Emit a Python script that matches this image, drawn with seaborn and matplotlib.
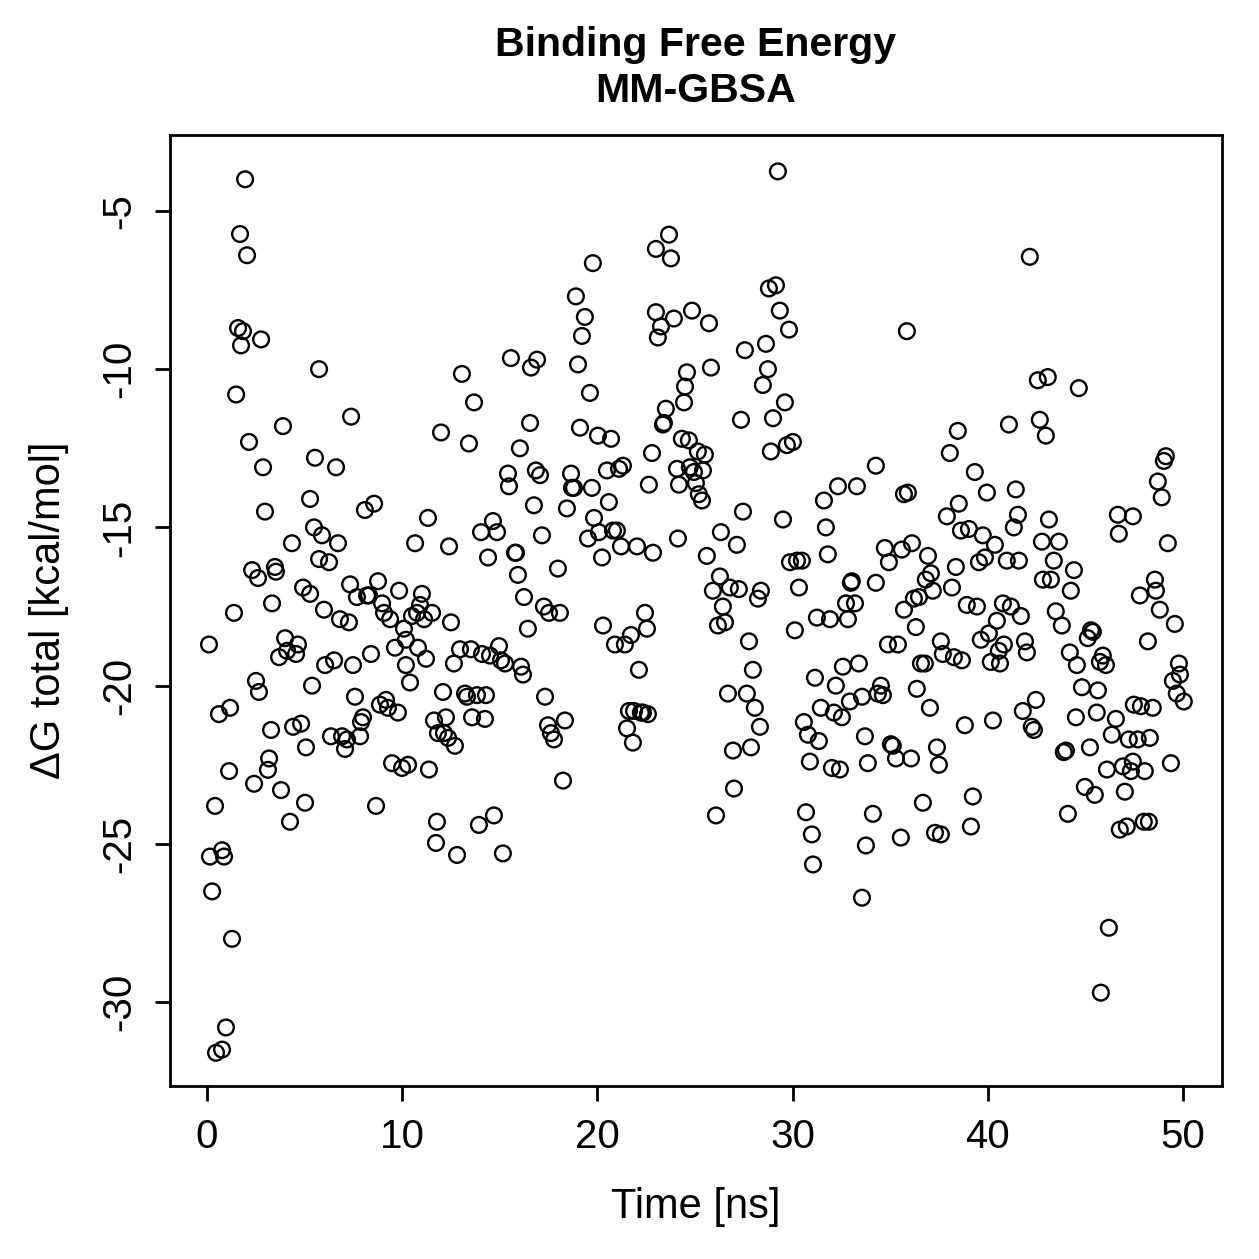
import matplotlib
matplotlib.use("Agg")
import matplotlib.pyplot as plt
import seaborn as sns
import pandas as pd

# simulation time (ns) and total binding free energy (kcal/mol)
time_ns = [
    0.10, 0.15, 0.26, 0.41, 0.46, 0.61, 0.77, 0.77, 0.87, 0.97,
    1.13, 1.18, 1.28, 1.38, 1.49, 1.59, 1.69, 1.74, 1.84, 1.95, 2.05,
    2.15, 2.31, 2.41, 2.51, 2.61, 2.66, 2.77, 2.87, 2.97, 3.12,
    3.18, 3.28, 3.33, 3.48, 3.53, 3.69, 3.79, 3.89, 4.00, 4.10,
    4.25, 4.35, 4.41, 4.56, 4.66, 4.82, 4.92, 5.02, 5.07, 5.28,
    5.28, 5.38, 5.53, 5.48, 5.74, 5.74, 5.89, 5.99, 6.05, 6.25,
    6.35, 6.51, 6.61, 6.71, 6.81, 6.92, 7.07, 7.17, 7.27, 7.33,
    7.38, 7.48, 7.58, 7.68, 7.84, 7.89, 7.99, 8.09, 8.20, 8.30,
    8.40, 8.56, 8.66, 8.76, 8.86, 8.97, 9.07, 9.17, 9.27, 9.38,
    9.48, 9.63, 9.78, 9.84, 9.99, 10.09, 10.19, 10.19, 10.30, 10.40,
    10.50, 10.66, 10.76, 10.81, 10.91, 11.01, 11.12, 11.22, 11.32, 11.37,
    11.53, 11.63, 11.73, 11.78, 11.83, 11.99, 12.09, 12.14, 12.24, 12.35,
    12.40, 12.50, 12.65, 12.70, 12.81, 12.96, 13.06, 13.22, 13.32, 13.42,
    13.52, 13.58, 13.68, 13.83, 13.93, 14.04, 14.09, 14.24, 14.29, 14.40,
    14.50, 14.65, 14.70, 14.86, 14.96, 15.06, 15.16, 15.27, 15.42, 15.47,
    15.57, 15.78, 15.83, 15.93, 16.03, 16.09, 16.19, 16.24, 16.44, 16.55,
    16.60, 16.75, 16.85, 16.91, 17.06, 17.16, 17.26, 17.32, 17.47, 17.52,
    17.62, 17.78, 17.98, 18.08, 18.24, 18.34, 18.44, 18.65, 18.70, 18.80,
    18.90, 19.01, 19.11, 19.21, 19.36, 19.52, 19.62, 19.72, 19.77, 19.83,
    20.03, 20.08, 20.24, 20.29, 20.49, 20.59, 20.70, 20.80, 20.90, 21.00,
    21.11, 21.21, 21.31, 21.41, 21.52, 21.62, 21.72, 21.82, 21.88, 22.03,
    22.13, 22.23, 22.34, 22.44, 22.54, 22.59, 22.64, 22.80, 22.85, 23.00,
    23.00, 23.10, 23.26, 23.36, 23.41, 23.51, 23.67, 23.77, 23.92, 24.08,
    24.13, 24.18, 24.33, 24.44, 24.49, 24.59, 24.69, 24.74, 24.85, 24.95,
    25.05, 25.15, 25.20, 25.36, 25.41, 25.51, 25.61, 25.72, 25.82, 25.92,
    26.08, 26.18, 26.28, 26.33, 26.43, 26.54, 26.69, 26.79, 26.95, 27.00,
    27.15, 27.25, 27.36, 27.46, 27.56, 27.66, 27.77, 27.87, 27.97, 28.07,
    28.23, 28.33, 28.38, 28.48, 28.64, 28.74, 28.79, 28.89, 29.00, 29.15,
    29.25, 29.35, 29.51, 29.61, 29.71, 29.82, 29.87, 30.02, 30.12, 30.23,
    30.33, 30.48, 30.58, 30.69, 30.79, 30.89, 30.99, 31.05, 31.15, 31.25,
    31.35, 31.45, 31.61, 31.71, 31.81, 31.92, 32.02, 32.12, 32.22, 32.33,
    32.43, 32.53, 32.58, 32.74, 32.84, 32.94, 32.99, 33.04, 33.20, 33.30,
    33.40, 33.56, 33.56, 33.71, 33.76, 33.86, 34.12, 34.27, 34.27, 34.37,
    34.53, 34.63, 34.73, 34.89, 34.94, 35.04, 35.14, 35.30, 35.40, 35.55,
    35.60, 35.71, 35.71, 35.86, 35.91, 36.07, 36.12, 36.22, 36.32, 36.37,
    36.48, 36.58, 36.68, 36.78, 36.83, 36.94, 37.04, 37.09, 37.19, 37.30,
    37.40, 37.50, 37.60, 37.60, 37.70, 37.91, 38.06, 38.17, 38.27, 38.37,
    38.47, 38.52, 38.63, 38.68, 38.83, 38.93, 39.04, 39.14, 39.24, 39.34,
    39.45, 39.55, 39.65, 39.75, 39.86, 39.96, 40.06, 40.16, 40.27, 40.37,
    40.47, 40.57, 40.63, 40.78, 40.83, 40.98, 41.09, 41.19, 41.34, 41.44,
    41.55, 41.60, 41.70, 41.80, 41.91, 42.01, 42.16, 42.26, 42.37, 42.47,
    42.57, 42.67, 42.78, 42.83, 42.98, 43.08, 43.14, 43.24, 43.39, 43.49,
    43.65, 43.80, 43.90, 44.01, 44.11, 44.21, 44.26, 44.42, 44.52, 44.57,
    44.67, 44.83, 44.98, 45.13, 45.24, 45.29, 45.39, 45.49, 45.59, 45.65,
    45.80, 45.75, 45.90, 46.06, 46.11, 46.21, 46.36, 46.57, 46.67, 46.72,
    46.77, 46.93, 47.03, 47.13, 47.23, 47.34, 47.44, 47.44, 47.49, 47.69,
    47.80, 47.85, 48.00, 48.05, 48.21, 48.26, 48.31, 48.46, 48.57, 48.62,
    48.72, 48.82, 48.92, 49.03, 49.13, 49.23, 49.39, 49.49, 49.59, 49.69,
    49.80, 49.85, 50.05,
]

delta_g = [
    -18.7, -25.4, -26.5, -23.8, -31.6, -20.9, -31.5, -25.2, -25.4, -30.8,
    -22.7, -20.7, -28.0, -17.7, -10.8, -8.7, -5.73, -9.25, -8.8, -4.0, -6.4,
    -12.3, -16.35, -23.1, -19.85, -16.6, -20.2, -9.06, -13.1, -14.5, -22.66,
    -22.3, -21.4, -17.4, -16.25, -16.4, -19.1, -23.3, -11.8, -18.5, -18.9,
    -24.3, -15.5, -21.3, -19.0, -18.7, -21.2, -16.9, -23.7, -21.95, -17.1,
    -14.1, -20.0, -12.8, -15.0, -16.0, -10.0, -15.25, -17.6, -19.35, -16.1,
    -21.6, -19.2, -13.1, -15.5, -17.9, -21.6, -22.0, -21.7, -18.0, -16.8,
    -11.5, -19.35, -20.35, -17.2, -21.6, -21.15, -21.0, -14.45, -17.15, -17.15,
    -19.0, -14.25, -23.8, -16.7, -20.6, -17.4, -17.7, -20.45, -20.7, -17.9,
    -22.45, -18.8, -20.85, -17.0, -22.6, -18.2, -19.35, -18.55, -22.5, -19.9,
    -17.8, -15.5, -17.7, -18.8, -17.45, -17.1, -17.9, -19.15, -14.7, -22.65,
    -17.7, -21.1, -24.97, -24.3, -21.5, -12.0, -20.2, -21.5, -21.0, -21.65,
    -15.6, -18.0, -19.3, -21.9, -25.35, -18.85, -10.15, -20.25, -20.35, -12.35,
    -18.85, -21.0, -11.05, -20.3, -24.4, -15.15, -19.0, -21.05, -20.3, -15.95,
    -19.05, -14.8, -24.1, -15.15, -18.75, -19.2, -25.3, -19.3, -13.3, -13.7,
    -9.65, -15.8, -15.8, -16.5, -12.5, -19.4, -19.65, -17.2, -18.2, -11.7,
    -9.95, -14.3, -13.2, -9.7, -13.35, -15.25, -17.5, -20.35, -21.25, -17.7,
    -21.5, -21.7, -16.3, -17.7, -23.0, -21.1, -14.4, -13.3, -13.75, -13.75,
    -7.7, -9.85, -11.85, -8.95, -8.35, -15.35, -10.75, -13.75, -6.65, -14.7,
    -12.1, -15.15, -15.95, -18.1, -13.2, -14.2, -12.2, -15.1, -18.7, -15.1,
    -13.15, -15.6, -13.05, -18.7, -21.35, -20.8, -18.4, -21.8, -20.8, -15.6,
    -19.5, -20.85, -20.85, -17.7, -18.2, -20.9, -13.65, -12.65, -15.8, -6.2,
    -8.2, -9.0, -8.65, -11.75, -11.7, -11.25, -5.75, -6.5, -8.4, -13.15,
    -15.35, -13.65, -12.2, -11.05, -10.55, -10.1, -12.25, -13.1, -8.15, -13.25,
    -13.6, -12.6, -13.95, -14.15, -13.2, -12.7, -15.9, -8.55, -9.95, -17.0,
    -24.1, -18.1, -16.55, -15.15, -17.5, -18.0, -20.25, -16.9, -22.05, -23.25,
    -15.55, -16.95, -11.6, -14.5, -9.4, -20.25, -18.6, -21.95, -19.5, -20.7,
    -17.25, -21.3, -17.0, -10.5, -9.2, -10.0, -7.45, -12.6, -11.55, -7.35,
    -3.75, -8.15, -14.75, -11.05, -12.4, -8.75, -16.1, -12.3, -18.25, -16.05,
    -16.9, -16.05, -21.15, -24.0, -21.55, -22.4, -24.7, -25.65, -19.75, -17.85,
    -21.75, -20.7, -14.15, -15.0, -15.85, -17.9, -22.6, -20.85, -20.0, -13.7,
    -22.65, -21.0, -19.4, -17.4, -17.9, -20.5, -16.75, -16.7, -17.4, -13.7,
    -19.3, -26.7, -20.35, -21.6, -25.05, -22.45, -24.05, -13.05, -16.75, -20.25,
    -20.0, -20.3, -15.65, -18.7, -16.1, -21.85, -21.9, -22.3, -18.7, -24.8,
    -15.7, -13.95, -17.6, -8.8, -13.9, -22.3, -15.5, -17.25, -18.15, -20.1,
    -17.2, -19.3, -23.7, -19.3, -16.65, -15.9, -20.7, -16.45, -17.0, -24.65,
    -21.95, -22.5, -24.7, -18.6, -19.0, -14.65, -12.65, -16.9, -19.1, -16.25,
    -11.95, -14.25, -15.1, -19.2, -21.25, -17.45, -15.05, -24.45, -23.5, -13.25,
    -17.5, -16.1, -18.55, -15.25, -15.95, -13.9, -18.35, -19.25, -21.1, -15.55,
    -17.95, -18.9, -19.3, -17.4, -18.7, -16.05, -11.75, -17.5, -15.0, -13.8,
    -14.6, -16.05, -17.8, -20.8, -18.6, -18.95, -6.45, -21.3, -21.4, -20.45,
    -10.35, -11.6, -15.45, -16.65, -12.1, -10.25, -14.75, -16.65, -16.05, -17.65,
    -15.45, -18.1, -22.1, -22.05, -24.05, -18.95, -17.0, -16.35, -21.0, -19.35,
    -10.6, -20.05, -23.2, -18.5, -21.95, -18.25, -18.3, -23.45, -20.85, -20.15,
    -29.7, -19.25, -19.05, -19.35, -22.65, -27.65, -21.55, -21.05, -14.6, -15.2,
    -24.55, -22.55, -23.35, -24.45, -21.7, -22.7, -14.65, -22.4, -20.6, -21.7,
    -17.15, -20.65, -24.3, -22.7, -18.6, -24.3, -21.65, -20.7, -16.65, -17.0,
    -13.55, -17.6, -14.05, -12.9, -12.75, -15.5, -22.45, -19.85, -18.05, -20.25,
    -19.3, -19.65, -20.5,
]

x_ticks = [0, 10, 20, 30, 40, 50]
y_ticks = [-30, -25, -20, -15, -10, -5]

df = pd.DataFrame({"time": time_ns, "dG": delta_g})

sns.set_style("ticks")
plt.rcParams['font.family'] = ['Liberation Sans', 'DejaVu Sans']
plt.rcParams['text.color'] = 'black'
plt.rcParams['axes.labelcolor'] = 'black'
plt.rcParams['xtick.color'] = 'black'
plt.rcParams['ytick.color'] = 'black'

fig = plt.figure(figsize=(1259 / 200, 1259 / 200), dpi=200)
ax = fig.add_axes([0.135, 0.1374, 0.8355, 0.7554])

sns.scatterplot(data=df, x="time", y="dG", ax=ax, marker="o", s=32,
                facecolors="none", edgecolor="black", linewidth=0.85)

ax.set_xlim(-1.9, 52.0)
ax.set_ylim(-32.65, -2.6)
ax.set_xticks(x_ticks)
ax.set_yticks(y_ticks)
ax.set_xticklabels([str(v) for v in x_ticks], fontsize=14.5)
ax.set_yticklabels([str(v) for v in y_ticks], fontsize=14.5, rotation=90, va="center")
ax.tick_params(direction="out", length=5.5, width=1.0, color="black", pad=6)

for sp in ax.spines.values():
    sp.set_linewidth(1.0)
    sp.set_color("black")

ax.set_xlabel("Time [ns]", fontsize=15, labelpad=11)
ax.set_ylabel("\u0394G total [kcal/mol]", fontsize=15, labelpad=11)
ax.set_title("Binding Free Energy\nMM-GBSA", fontsize=14.8, fontweight="bold",
             pad=12, linespacing=1.25, color="black")

plt.savefig("out.png", dpi=200)
